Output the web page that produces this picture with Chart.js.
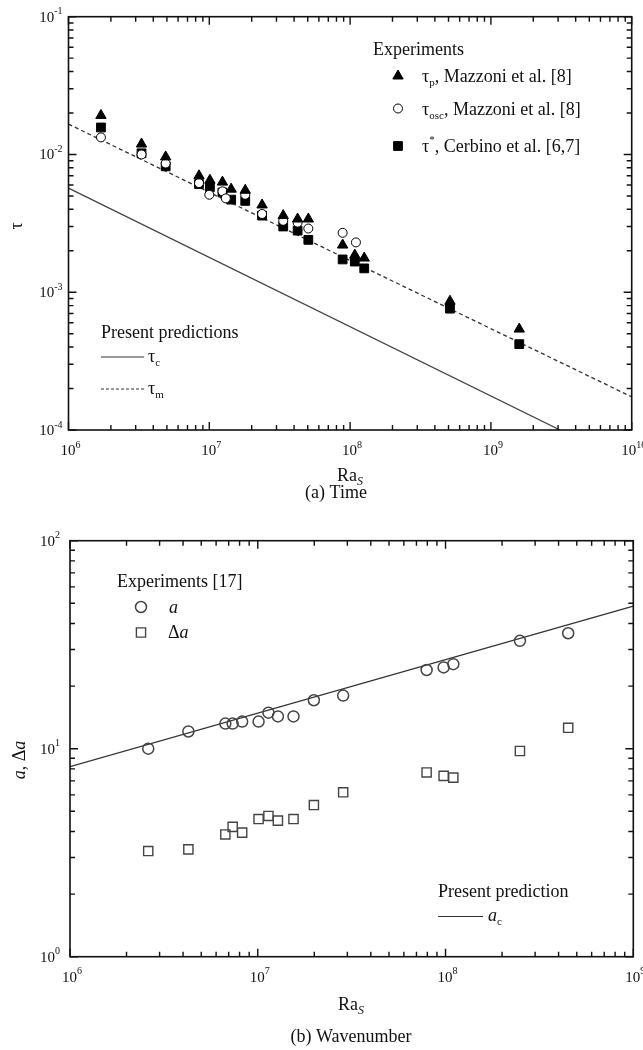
<!DOCTYPE html>
<html>
<head>
<meta charset="utf-8">
<script src="https://cdn.jsdelivr.net/npm/chart.js@4.4.0/dist/chart.umd.min.js"></script>
<style>
  body { margin: 0; background: #fff; }
  #wrap { position: relative; width: 643px; height: 1050px; }
  canvas { position: absolute; left: 0; }
</style>
</head>
<body>
<div id="wrap">
  <canvas id="chartA" width="643" height="515" style="top:0"></canvas>
  <canvas id="chartB" width="643" height="535" style="top:515px"></canvas>
</div>
<script>
// ---- (a) Time ----
const tauP_x = [1.70e6, 3.3e6, 4.9e6, 8.45e6, 1.01e7, 1.24e7, 1.43e7, 1.8e7, 2.37e7, 3.35e7, 4.24e7, 5.05e7, 8.85e7, 1.08e8, 1.26e8, 5.12e8, 1.59e9];
const tauP_y = [0.0192, 0.0119, 0.0096, 0.0070, 0.0065, 0.0063, 0.0056, 0.0055, 0.0043, 0.0036, 0.0034, 0.0034, 0.0022, 0.00186, 0.00177, 0.00086, 0.00054];

const tauOsc_x = [1.70e6, 3.3e6, 4.9e6, 8.45e6, 1.0e7, 1.24e7, 1.31e7, 1.8e7, 2.37e7, 3.35e7, 4.24e7, 5.05e7, 8.85e7, 1.1e8];
const tauOsc_y = [0.0133, 0.0100, 0.0086, 0.0062, 0.0051, 0.0054, 0.0048, 0.0051, 0.0037, 0.0033, 0.0032, 0.0029, 0.0027, 0.0023];

const tauStar_x = [1.70e6, 3.3e6, 4.9e6, 8.45e6, 1.01e7, 1.24e7, 1.43e7, 1.8e7, 2.37e7, 3.35e7, 4.24e7, 5.05e7, 8.85e7, 1.08e8, 1.26e8, 5.12e8, 1.59e9];
const tauStar_y = [0.0157, 0.0102, 0.0082, 0.0061, 0.0058, 0.0053, 0.0047, 0.0046, 0.0036, 0.0030, 0.0028, 0.0024, 0.00173, 0.00167, 0.00149, 0.00076, 0.00042];

const tauC_x = [1e6, 3.1e9];
const tauC_y = [0.0057, 1e-4];
const tauM_x = [1e6, 1e10];
const tauM_y = [0.0166, 1.74e-4];

// ---- (b) Wavenumber ----
const raB_x = [2.61e6, 4.27e6, 6.72e6, 7.35e6, 8.26e6, 1.01e7, 1.14e7, 1.28e7, 1.55e7, 1.99e7, 2.85e7, 7.93e7, 9.77e7, 1.1e8, 2.49e8, 4.5e8];
const a_y = [10.0, 12.1, 13.2, 13.2, 13.5, 13.5, 14.9, 14.3, 14.3, 17.1, 18.0, 23.9, 24.6, 25.5, 33.0, 35.9];
const da_y = [3.22, 3.28, 3.87, 4.21, 3.95, 4.59, 4.75, 4.51, 4.59, 5.36, 6.17, 7.69, 7.40, 7.26, 9.75, 12.6];

const aC_x = [1e6, 1e9];
const aC_y = [8.2, 48.5];

const FONT = '"Liberation Serif", "Times New Roman", serif';

function pts(xs, ys) {
  return xs.map((x, i) => ({ x: x, y: ys[i] }));
}

// text made of pieces: [text, size, dy, italic]
function rich(ctx, parts, x, y, align) {
  let w = 0;
  parts.forEach(p => {
    ctx.font = (p[3] ? 'italic ' : '') + p[1] + 'px ' + FONT;
    w += ctx.measureText(p[0]).width;
  });
  let cx = x;
  if (align === 'right') cx = x - w;
  if (align === 'center') cx = x - w / 2;
  ctx.textAlign = 'left';
  ctx.textBaseline = 'middle';
  ctx.fillStyle = '#111';
  parts.forEach(p => {
    ctx.font = (p[3] ? 'italic ' : '') + p[1] + 'px ' + FONT;
    ctx.fillText(p[0], cx, y + (p[2] || 0));
    cx += ctx.measureText(p[0]).width;
  });
}

// frame, inside ticks on all 4 sides, decade labels
function drawFrame(chart, xlab, ylab) {
  const ctx = chart.ctx;
  const a = chart.chartArea;
  const xs = chart.scales.x, ys = chart.scales.y;
  ctx.save();
  ctx.strokeStyle = '#111';
  ctx.lineWidth = 1.6;
  ctx.strokeRect(a.left, a.top, a.right - a.left, a.bottom - a.top);
  ctx.lineWidth = 1.4;
  ctx.beginPath();
  const x0 = Math.round(Math.log10(xs.min)), x1 = Math.round(Math.log10(xs.max));
  for (let d = x0; d <= x1; d++) {
    for (let k = 1; k <= 9; k++) {
      const v = k * Math.pow(10, d);
      if (v > xs.max * 1.0001) break;
      const px = xs.getPixelForValue(v);
      const len = k === 1 ? 8 : 5;
      ctx.moveTo(px, a.bottom); ctx.lineTo(px, a.bottom - len);
      ctx.moveTo(px, a.top); ctx.lineTo(px, a.top + len);
    }
  }
  const y0 = Math.round(Math.log10(ys.min)), y1 = Math.round(Math.log10(ys.max));
  for (let d = y0; d <= y1; d++) {
    for (let k = 1; k <= 9; k++) {
      const v = k * Math.pow(10, d);
      if (v > ys.max * 1.0001) break;
      const py = ys.getPixelForValue(v);
      const len = k === 1 ? 8 : 5;
      ctx.moveTo(a.left, py); ctx.lineTo(a.left + len, py);
      ctx.moveTo(a.right, py); ctx.lineTo(a.right - len, py);
    }
  }
  ctx.stroke();
  for (let d = x0; d <= x1; d++) {
    rich(ctx, [['10', 15, 0], [String(d), 10, -6]], xs.getPixelForValue(Math.pow(10, d)) + 2, a.bottom + xlab, 'center');
  }
  for (let d = y0; d <= y1; d++) {
    rich(ctx, [['10', 15, 0], [String(d), 10, -6]], a.left - ylab, ys.getPixelForValue(Math.pow(10, d)) + 1, 'right');
  }
  ctx.restore();
}

function legendLine(ctx, x1, x2, y, dash) {
  ctx.save();
  ctx.strokeStyle = '#333';
  ctx.lineWidth = 1.2;
  ctx.setLineDash(dash);
  ctx.beginPath();
  ctx.moveTo(x1, y); ctx.lineTo(x2, y);
  ctx.stroke();
  ctx.restore();
}

function marker(ctx, style, r, x, y, fill, stroke, bw) {
  ctx.save();
  ctx.fillStyle = fill;
  ctx.strokeStyle = stroke;
  ctx.lineWidth = bw;
  Chart.helpers.drawPoint(ctx, { pointStyle: style, radius: r, rotation: 0, borderWidth: bw }, x, y);
  ctx.restore();
}

const decorA = {
  id: 'decorA',
  afterDraw(chart) {
    const ctx = chart.ctx;
    drawFrame(chart, 21, 6);
    // axis titles
    rich(ctx, [['Ra', 18, 0], ['S', 12, 6, true]], 350, 476, 'center');
    rich(ctx, [['(a) Time', 18, 0]], 336, 493, 'center');
    ctx.save();
    ctx.translate(17, 226);
    ctx.rotate(-Math.PI / 2);
    rich(ctx, [['τ', 18, 0]], 0, 0, 'center');
    ctx.restore();
    // experiments legend
    rich(ctx, [['Experiments', 18, 0]], 373, 50, 'left');
    marker(ctx, 'triangle', 6, 398, 76, '#000', '#000', 1);
    rich(ctx, [['τ', 18, 0], ['p', 11, 6], [', Mazzoni et al. [8]', 18, 0]], 422, 77, 'left');
    marker(ctx, 'circle', 4.5, 398, 108.5, '#fff', '#000', 1);
    rich(ctx, [['τ', 18, 0], ['osc', 11, 6], [', Mazzoni et al. [8]', 18, 0]], 422, 110, 'left');
    marker(ctx, 'rect', 6.2, 398, 146, '#000', '#000', 1);
    rich(ctx, [['τ', 18, 0], ['*', 11, -7], [', Cerbino et al. [6,7]', 18, 0]], 422, 147, 'left');
    // predictions legend
    rich(ctx, [['Present predictions', 18, 0]], 101, 333, 'left');
    legendLine(ctx, 101, 144, 357, []);
    rich(ctx, [['τ', 18, 0], ['c', 11, 6]], 148, 357, 'left');
    legendLine(ctx, 101, 144, 389, [3, 2]);
    rich(ctx, [['τ', 18, 0], ['m', 11, 6]], 148, 389, 'left');
  }
};

const decorB = {
  id: 'decorB',
  afterDraw(chart) {
    const ctx = chart.ctx;
    drawFrame(chart, 21, 10);
    rich(ctx, [['Ra', 18, 0], ['S', 12, 6, true]], 351, 490, 'center');
    rich(ctx, [['(b) Wavenumber', 18, 0]], 351, 522, 'center');
    ctx.save();
    ctx.translate(20, 245);
    ctx.rotate(-Math.PI / 2);
    rich(ctx, [['a', 18, 0, true], [', Δ', 18, 0], ['a', 18, 0, true]], 0, 0, 'center');
    ctx.restore();
    rich(ctx, [['Experiments [17]', 18, 0]], 117, 67, 'left');
    marker(ctx, 'circle', 5.5, 141, 92, 'rgba(0,0,0,0)', '#444', 1.5);
    rich(ctx, [['a', 18, 0, true]], 169, 93, 'left');
    marker(ctx, 'rect', 6.5, 141, 117.5, 'rgba(0,0,0,0)', '#444', 1.4);
    rich(ctx, [['Δ', 18, 0], ['a', 18, 0, true]], 168, 118.5, 'left');
    rich(ctx, [['Present prediction', 18, 0]], 438, 377, 'left');
    legendLine(ctx, 438, 483, 401.5, []);
    rich(ctx, [['a', 18, 0, true], ['c', 11, 6]], 488, 401.5, 'left');
  }
};

new Chart(document.getElementById('chartA'), {
  type: 'scatter',
  data: {
    datasets: [
      { label: 'tau_p', data: pts(tauP_x, tauP_y), order: 0, pointStyle: 'triangle', pointRadius: 6,
        backgroundColor: '#000', borderColor: '#000', borderWidth: 1 },
      { label: 'tau_osc', data: pts(tauOsc_x, tauOsc_y), order: 1, pointStyle: 'circle', pointRadius: 4.5,
        backgroundColor: '#fff', borderColor: '#000', borderWidth: 1 },
      { label: 'tau_star', data: pts(tauStar_x, tauStar_y), order: 2, pointStyle: 'rect', pointRadius: 6.2,
        backgroundColor: '#000', borderColor: '#000', borderWidth: 1 },
      { label: 'tau_c', data: pts(tauC_x, tauC_y), order: 3, showLine: true, pointRadius: 0,
        borderColor: '#444', borderWidth: 1.3 },
      { label: 'tau_m', data: pts(tauM_x, tauM_y), order: 4, showLine: true, pointRadius: 0,
        borderColor: '#333', borderWidth: 1.3, borderDash: [4, 3] }
    ]
  },
  options: {
    responsive: false,
    animation: false,
    layout: { padding: { left: 68.5, top: 16.7, right: 11.3, bottom: 85 } },
    plugins: { legend: { display: false }, tooltip: { enabled: false } },
    scales: {
      x: { type: 'logarithmic', min: 1e6, max: 1e10, display: false },
      y: { type: 'logarithmic', min: 1e-4, max: 1e-1, display: false }
    }
  },
  plugins: [decorA]
});

new Chart(document.getElementById('chartB'), {
  type: 'scatter',
  data: {
    datasets: [
      { label: 'a', data: pts(raB_x, a_y), order: 0, pointStyle: 'circle', pointRadius: 5.5,
        backgroundColor: 'rgba(0,0,0,0)', borderColor: '#444', borderWidth: 1.5 },
      { label: 'da', data: pts(raB_x, da_y), order: 1, pointStyle: 'rect', pointRadius: 6.5,
        backgroundColor: 'rgba(0,0,0,0)', borderColor: '#444', borderWidth: 1.4 },
      { label: 'a_c', data: pts(aC_x, aC_y), order: 2, showLine: true, pointRadius: 0,
        borderColor: '#333', borderWidth: 1.3 }
    ]
  },
  options: {
    responsive: false,
    animation: false,
    layout: { padding: { left: 70, top: 25.7, right: 9.7, bottom: 93.3 } },
    plugins: { legend: { display: false }, tooltip: { enabled: false } },
    scales: {
      x: { type: 'logarithmic', min: 1e6, max: 1e9, display: false },
      y: { type: 'logarithmic', min: 1, max: 100, display: false }
    }
  },
  plugins: [decorB]
});
</script>
</body>
</html>
